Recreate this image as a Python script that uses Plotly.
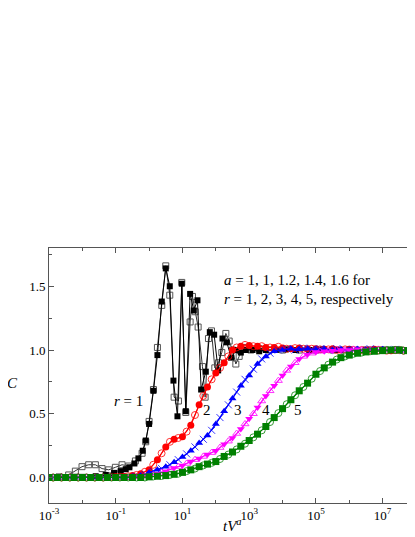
import plotly.graph_objects as go

# log10(tV^a) grids used by the dense curves
GRID = [-3.0, -2.75, -2.5, -2.25, -2.0, -1.75, -1.5, -1.25, -1.0, -0.75, -0.5, -0.25,
        0.0, 0.25, 0.5, 0.75, 1.0, 1.25, 1.5, 1.75, 2.0, 2.25, 2.5, 2.75,
        3.0, 3.25, 3.5, 3.75, 4.0, 4.25, 4.5, 4.75, 5.0, 5.25, 5.5, 5.75,
        6.0, 6.25, 6.5, 6.75, 7.0, 7.25, 7.5, 7.75, 8.0]
GRID_HALF = [-2.875, -2.625, -2.375, -2.125, -1.875, -1.625, -1.375, -1.125, -0.875, -0.625, -0.375, -0.125,
             0.125, 0.375, 0.625, 0.875, 1.125, 1.375, 1.625, 1.875, 2.125, 2.375, 2.625, 2.875,
             3.125, 3.375, 3.625, 3.875, 4.125, 4.375, 4.625, 4.875, 5.125, 5.375, 5.625, 5.875,
             6.125, 6.375, 6.625, 6.875, 7.125, 7.375, 7.625, 7.875]

# r = 1 (black), oscillating
R1_FILLED_LOGX = [-3.0, -2.5, -2.0, -1.6, -1.3, -1.05, -0.85, -0.7, -0.59, -0.44, -0.32, -0.19, -0.10,
                  0.0, 0.13, 0.25, 0.38, 0.50, 0.62, 0.73, 0.85, 0.98, 1.10, 1.23, 1.34, 1.45, 1.56,
                  1.70, 1.82, 1.95, 2.07, 2.20, 2.33, 2.46, 2.60, 2.75, 2.9, 3.1, 3.3, 3.5, 3.8,
                  4.1, 4.4, 4.8, 5.2, 5.6, 6.0, 6.5, 7.0, 7.5, 8.0]
R1_FILLED_C = [0.0, 0.0, 0.005, 0.01, 0.02, 0.035, 0.05, 0.065, 0.08, 0.11, 0.15, 0.21, 0.29,
               0.42, 0.68, 0.96, 1.38, 1.64, 1.50, 0.76, 0.48, 1.52, 0.52, 1.44, 1.31, 1.39, 0.69,
               0.83, 1.14, 1.12, 0.84, 1.09, 1.06, 0.94, 1.0, 0.98, 1.0, 1.0, 0.99, 1.0, 1.0,
               1.005, 1.0, 1.0, 1.005, 1.0, 1.0, 1.0, 1.0, 1.0, 1.0]
R1_OPEN_LOGX = [-3.0, -2.7, -2.41, -2.21, -2.01, -1.81, -1.61, -1.41, -1.21, -1.01, -0.81, -0.61, -0.41,
                -0.21, -0.10, 0.0, 0.13, 0.25, 0.38, 0.50, 0.62, 0.75, 0.88, 0.98, 1.10, 1.23, 1.30,
                1.38, 1.47, 1.60, 1.68, 1.78, 1.87, 1.97, 2.08, 2.18, 2.30, 2.40, 2.50, 2.60, 2.70,
                2.85, 3.05, 3.3, 3.6, 4.0, 4.5, 5.0, 5.5, 6.0, 6.5, 7.0, 7.5, 8.0]
R1_OPEN_C = [0.0, 0.005, 0.02, 0.05, 0.085, 0.10, 0.10, 0.07, 0.06, 0.08, 0.10, 0.09, 0.13,
             0.19, 0.28, 0.44, 0.69, 1.02, 1.35, 1.66, 1.43, 0.63, 0.60, 1.53, 0.51, 1.22, 1.42,
             1.30, 1.18, 0.87, 0.63, 1.09, 1.15, 0.86, 0.90, 0.98, 1.13, 1.07, 1.00, 0.89, 0.95,
             1.02, 1.00, 1.01, 1.0, 1.0, 1.0, 1.0, 1.0, 1.0, 1.0, 1.0, 1.0, 1.0]

# r = 2..5 on GRID (filled) and GRID_HALF (open)
R2_FILLED_C = [0, 0, 0, 0, 0, 0, 0, 0, 0.005, 0.008, 0.015, 0.03,
               0.06, 0.14, 0.24, 0.30, 0.32, 0.41, 0.57, 0.71, 0.82, 0.90, 1.00, 1.03,
               1.035, 1.03, 1.02, 1.02, 1.015, 1.01, 1.015, 1.01, 1.01, 1.005, 1.01, 1.0,
               1.005, 1.0, 1.0, 1.005, 1.0, 0.995, 1.0, 0.995, 0.99]
R2_OPEN_C = [0, 0, 0, 0, 0, 0, 0, 0.003, 0.006, 0.01, 0.02, 0.045,
             0.10, 0.19, 0.28, 0.31, 0.36, 0.49, 0.64, 0.77, 0.86, 0.95, 1.02, 1.04,
             1.03, 1.03, 1.02, 1.025, 1.01, 1.015, 1.01, 1.01, 1.005, 1.005, 1.0, 1.005,
             1.0, 1.0, 1.0, 1.0, 0.995, 1.0, 0.995, 0.99]
R3_FILLED_C = [0, 0, 0, 0, 0, 0, 0, 0, 0, 0, 0.005, 0.015,
               0.04, 0.06, 0.085, 0.12, 0.16, 0.21, 0.27, 0.33, 0.42, 0.52, 0.62, 0.72,
               0.80, 0.89, 0.95, 0.99, 1.0, 1.01, 1.005, 1.01, 1.005, 1.01, 1.0, 1.005,
               1.0, 1.005, 1.0, 1.0, 1.005, 1.0, 0.995, 1.0, 0.995]
R3_OPEN_C = [0, 0, 0, 0, 0, 0, 0, 0, 0, 0.003, 0.01, 0.025,
             0.05, 0.07, 0.10, 0.14, 0.185, 0.24, 0.30, 0.37, 0.47, 0.57, 0.67, 0.77,
             0.85, 0.93, 0.975, 1.0, 1.01, 1.0, 1.015, 1.005, 1.01, 1.0, 1.01, 1.0,
             1.005, 1.0, 1.01, 1.0, 1.0, 1.005, 0.995, 1.0]
R4_FILLED_C = [0, 0, 0, 0, 0, 0, 0, 0, 0, 0, 0.003, 0.008,
               0.015, 0.03, 0.05, 0.075, 0.095, 0.125, 0.15, 0.18, 0.21, 0.26, 0.31, 0.38,
               0.46, 0.55, 0.64, 0.72, 0.80, 0.87, 0.93, 0.965, 0.985, 0.99, 0.995, 1.0,
               1.0, 1.005, 1.0, 1.0, 1.0, 1.005, 1.0, 0.995, 0.99]
R4_OPEN_C = [0, 0, 0, 0, 0, 0, 0, 0, 0, 0, 0.005, 0.01,
             0.02, 0.04, 0.06, 0.085, 0.11, 0.14, 0.165, 0.195, 0.235, 0.285, 0.345, 0.42,
             0.50, 0.60, 0.68, 0.76, 0.84, 0.90, 0.95, 0.975, 0.99, 0.995, 1.0, 1.0,
             1.005, 1.0, 1.0, 1.005, 1.0, 1.0, 0.995, 0.99]
R5_FILLED_C = [0, 0, 0, 0, 0, 0, 0, 0, 0, 0, 0, 0,
               0.005, 0.01, 0.015, 0.025, 0.04, 0.06, 0.085, 0.105, 0.125, 0.165, 0.20, 0.245,
               0.29, 0.34, 0.40, 0.47, 0.54, 0.61, 0.68, 0.74, 0.81, 0.86, 0.905, 0.94,
               0.96, 0.975, 0.985, 0.99, 0.995, 1.0, 1.0, 0.995, 0.99]
R5_OPEN_C = [0, 0, 0, 0, 0, 0, 0, 0, 0, 0, 0, 0,
             0.008, 0.012, 0.02, 0.03, 0.05, 0.07, 0.095, 0.115, 0.145, 0.18, 0.22, 0.265,
             0.315, 0.37, 0.435, 0.505, 0.575, 0.645, 0.71, 0.775, 0.835, 0.885, 0.925, 0.95,
             0.97, 0.98, 0.99, 0.995, 1.0, 1.0, 0.995, 0.99]

X_TICKS = [-3, -1, 1, 3, 5, 7]
X_MINOR = [-2, 0, 2, 4, 6, 8]
Y_TICKS = [0.0, 0.5, 1.0, 1.5]
CURVE_LABELS = [("<i>r</i> = 1", -0.62, 0.60), ("2", 1.75, 0.53), ("3", 2.65, 0.53),
                ("4", 3.50, 0.53), ("5", 4.45, 0.53)]

SERIF = "Liberation Serif"
AXIS_GRAY = "#555555"


def to_x(logs):
    return [10 ** v for v in logs]


fig = go.Figure()

# black r = 1: open squares and filled squares, both joined by lines
fig.add_trace(go.Scatter(
    x=to_x(R1_OPEN_LOGX), y=R1_OPEN_C, mode="lines+markers",
    line=dict(color="#333333", width=1),
    marker=dict(symbol="square-open", size=6, color="#555555", line=dict(width=1)),
))
fig.add_trace(go.Scatter(
    x=to_x(R1_FILLED_LOGX), y=R1_FILLED_C, mode="lines+markers",
    line=dict(color="black", width=1),
    marker=dict(symbol="square", size=6, color="black"),
))

groups = [
    (R2_FILLED_C, R2_OPEN_C, "#ff0000", "circle", "circle-open"),
    (R3_FILLED_C, R3_OPEN_C, "#0000ff", "triangle-up", "x-thin-open"),
    (R4_FILLED_C, R4_OPEN_C, "#ff00ff", "triangle-down", "triangle-up-open"),
    (R5_FILLED_C, R5_OPEN_C, "#008000", "square", "circle-open"),
]
for filled, opened, color, sym, sym_open in groups:
    fig.add_trace(go.Scatter(
        x=to_x(GRID_HALF), y=opened, mode="lines+markers",
        line=dict(color=color, width=1),
        marker=dict(symbol=sym_open, size=7, color=color, line=dict(width=1, color=color)),
        opacity=0.8,
    ))
    fig.add_trace(go.Scatter(
        x=to_x(GRID), y=filled, mode="lines+markers",
        line=dict(color=color, width=1.2),
        marker=dict(symbol=sym, size=7, color=color),
    ))

annotations = [
    dict(x=2.18, y=1.55, text="<i>a</i> = 1, 1, 1.2, 1.4, 1.6 for", xanchor="left",
         font=dict(family=SERIF, size=15)),
    dict(x=2.18, y=1.40, text="<i>r</i> = 1, 2, 3, 4, 5, respectively", xanchor="left",
         font=dict(family=SERIF, size=15)),
]
for text, lx, cy in CURVE_LABELS:
    annotations.append(dict(x=lx, y=cy, text=text, xanchor="center",
                            font=dict(family=SERIF, size=15)))
for a in annotations:
    a.update(xref="x", yref="y", showarrow=False, yanchor="middle")

annotations.append(dict(xref="paper", yref="paper", x=0.5, y=-0.088, showarrow=False,
                        text="<i>tV</i><sup><i>a</i></sup>", font=dict(family=SERIF, size=15),
                        xanchor="center", yanchor="middle"))
annotations.append(dict(xref="paper", yref="paper", x=-0.1, y=0.47, showarrow=False,
                        text="<i>C</i>", font=dict(family=SERIF, size=15),
                        xanchor="center", yanchor="middle"))

fig.update_layout(
    width=415, height=537,
    margin=dict(l=41, r=7, t=240, b=42),
    paper_bgcolor="white", plot_bgcolor="white",
    showlegend=False,
    font=dict(family=SERIF, color="black", size=13),
    annotations=annotations,
)
fig.update_xaxes(
    type="log", range=[-3, 8],
    tickvals=[10 ** v for v in X_TICKS],
    ticktext=[f"10<sup>{v}</sup>" for v in X_TICKS],
    tickfont=dict(family=SERIF, size=13),
    ticks="inside", ticklen=5, tickcolor=AXIS_GRAY,
    minor=dict(tickvals=[10 ** v for v in X_MINOR], ticks="inside", ticklen=3, tickcolor=AXIS_GRAY),
    showline=True, linecolor=AXIS_GRAY, linewidth=1, mirror="ticks",
    showgrid=False, zeroline=False,
)
fig.update_yaxes(
    range=[-0.2, 1.8],
    tickvals=Y_TICKS, ticktext=[f"{v:.1f}" for v in Y_TICKS],
    tickfont=dict(family=SERIF, size=13),
    ticks="inside", ticklen=5, tickcolor=AXIS_GRAY,
    minor=dict(dtick=0.25, ticks="inside", ticklen=3, tickcolor=AXIS_GRAY),
    showline=True, linecolor=AXIS_GRAY, linewidth=1, mirror="ticks",
    showgrid=False, zeroline=False,
)

fig.write_html("out.html")
